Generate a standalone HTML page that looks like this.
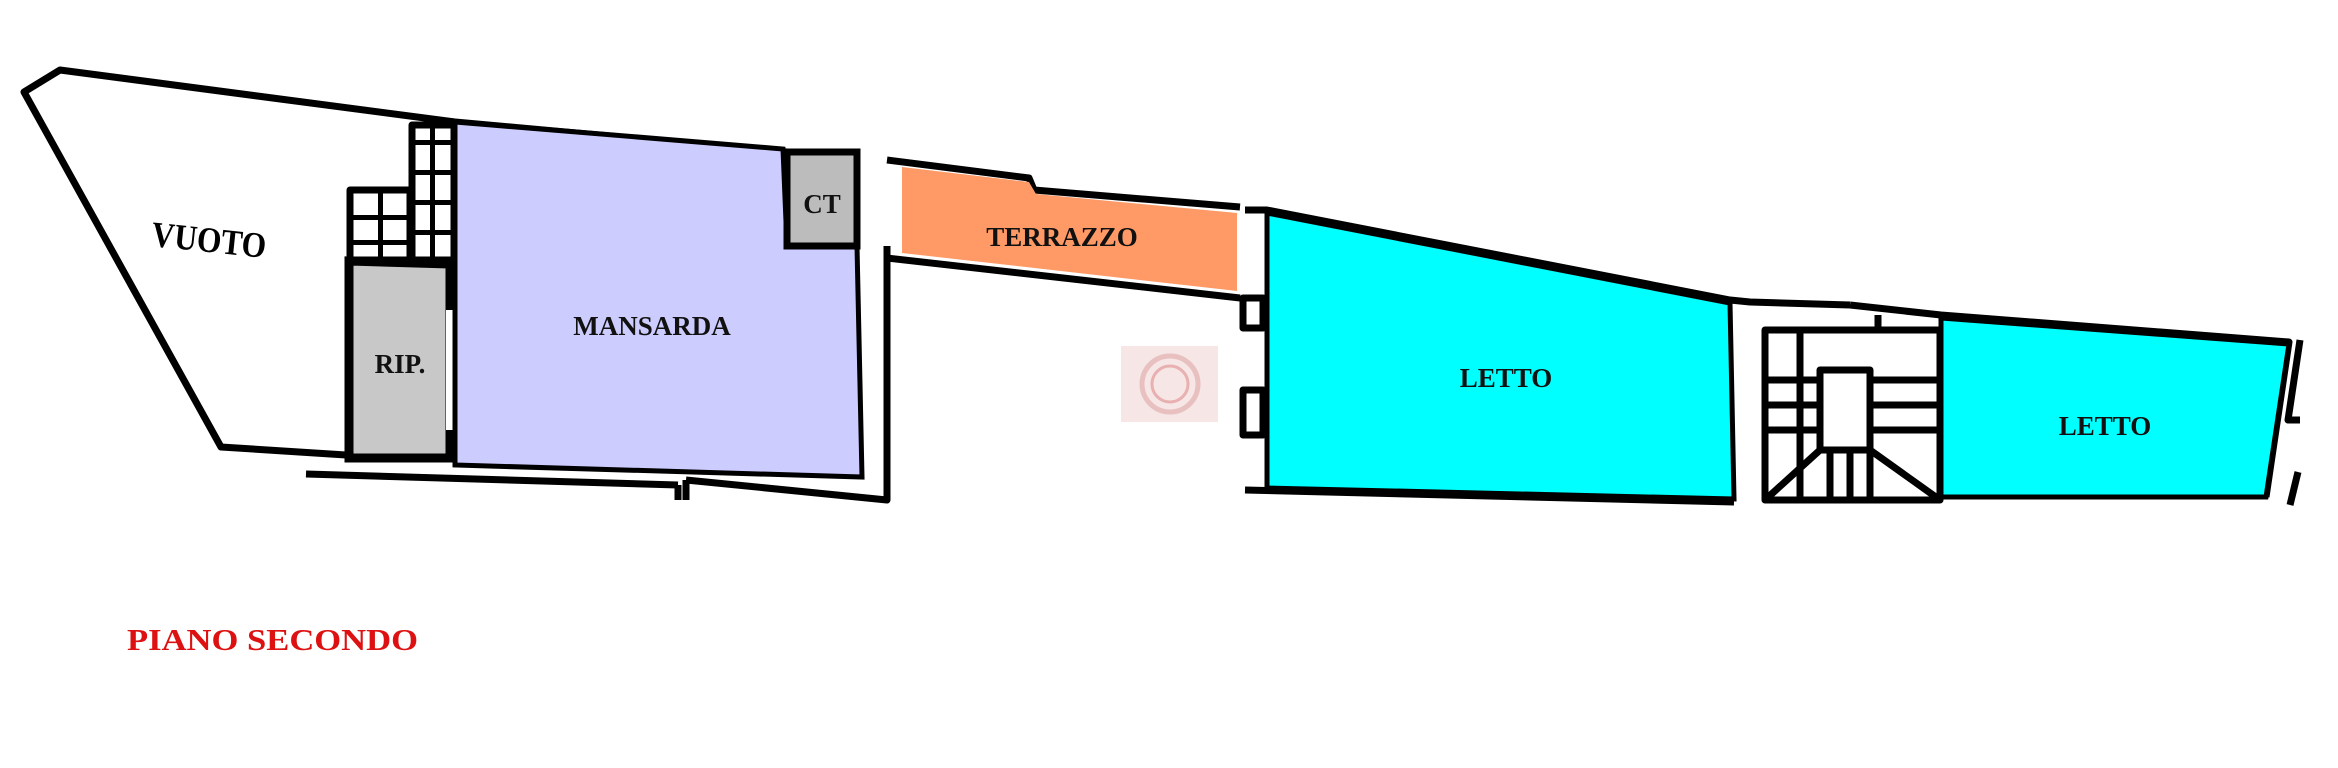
<!DOCTYPE html>
<html><head><meta charset="utf-8"><style>
html,body{margin:0;padding:0;background:#fff;}
svg{display:block;}
text{font-family:"Liberation Serif",serif;}
</style></head><body>
<svg width="2338" height="768" viewBox="0 0 2338 768" xmlns="http://www.w3.org/2000/svg">
<rect width="2338" height="768" fill="#fff"/>
<g stroke="#000" stroke-width="7" fill="none" stroke-linejoin="round">
<polyline points="349,455 346,455 221,447 24,92 60,70 455,122"/>
<polyline points="455,122 787,152 857,156"/>
<polyline points="306,474 678,485"/>
<polyline points="686,480 887,500 887,246"/>
<line x1="678" y1="485" x2="678" y2="500"/>
<line x1="686" y1="480" x2="686" y2="500"/>
<polyline points="887,160 1029,178 1034,190 1240,207"/>
<polyline points="887,258 1240,298"/>
<polyline points="1245,210 1267,210 1730,300 1750,302 1850,305"/>
<polyline points="1245,490 1734,502"/>
<rect x="1243" y="298" width="20" height="30"/>
<rect x="1243" y="390" width="20" height="45"/>
<polyline points="1850,305 1941,315 2289,342 2266,497"/>
<rect x="1765" y="330" width="175" height="170"/>
<rect x="1820" y="370" width="50" height="80"/>
<line x1="1765" y1="380" x2="1820" y2="380"/><line x1="1765" y1="405" x2="1820" y2="405"/><line x1="1765" y1="430" x2="1820" y2="430"/>
<line x1="1870" y1="380" x2="1940" y2="380"/><line x1="1870" y1="405" x2="1940" y2="405"/><line x1="1870" y1="430" x2="1940" y2="430"/>
<line x1="1765" y1="500" x2="1820" y2="450"/><line x1="1940" y1="500" x2="1870" y2="450"/>
<line x1="1830" y1="450" x2="1830" y2="500"/><line x1="1850" y1="450" x2="1850" y2="500"/><line x1="1870" y1="450" x2="1870" y2="500"/>
<line x1="1800" y1="330" x2="1800" y2="500"/>
<line x1="1878" y1="315" x2="1878" y2="330"/>
<polyline points="2300,340 2288,420 2300,420"/>
<polyline points="2298,472 2290,505"/>
<rect x="412" y="125" width="42" height="135"/>
<rect x="350" y="190" width="60" height="70"/>
</g>
<g fill="#000">
<rect x="415" y="140" width="36" height="5"/><rect x="415" y="170" width="36" height="5"/><rect x="415" y="200" width="36" height="5"/><rect x="415" y="230" width="36" height="5"/>
<rect x="352" y="215" width="56" height="5"/><rect x="352" y="240" width="56" height="5"/>
<rect x="430" y="125" width="5" height="135"/><rect x="378" y="190" width="5" height="70"/>
</g>
<polygon points="349,261 450,264 450,458 349,458" fill="#c8c8c8" stroke="#000" stroke-width="9"/>
<rect x="446" y="310" width="9" height="120" fill="#fff"/>
<polygon points="455,122 783,149 787,246 857,246 862,477 455,465" fill="#ccccff" stroke="#000" stroke-width="5"/>
<rect x="787" y="152" width="70" height="94" fill="#bcbcbc" stroke="#000" stroke-width="7"/>
<rect x="862" y="170" width="20" height="40" fill="#fff"/>
<polygon points="902,167 1029,182 1036,194 1237,213 1237,291 902,253" fill="#ff9966"/>
<polygon points="1267,213 1730,303 1734,499 1267,488" fill="#00ffff" stroke="#000" stroke-width="5"/>
<polygon points="1941,318 2289,344 2266,497 1941,497" fill="#00ffff" stroke="#000" stroke-width="5"/>
<rect x="1121" y="346" width="97" height="76" fill="#f6e6e6"/>
<circle cx="1170" cy="384" r="28" fill="none" stroke="#e8c0c0" stroke-width="5"/>
<circle cx="1170" cy="384" r="18" fill="none" stroke="#e8b0b0" stroke-width="3"/>
<text x="209" y="252" font-family="Liberation Sans,sans-serif" font-weight="bold" font-size="36" transform="rotate(6 209 240)" text-anchor="middle" textLength="115" lengthAdjust="spacingAndGlyphs">VUOTO</text>
<text x="652" y="335" font-size="27" font-weight="bold" text-anchor="middle" fill="#111">MANSARDA</text>
<text x="400" y="373" font-size="27" font-weight="bold" text-anchor="middle" fill="#111">RIP.</text>
<text x="822" y="213" font-size="27" font-weight="bold" text-anchor="middle" fill="#111">CT</text>
<text x="1062" y="246" font-size="27" font-weight="bold" text-anchor="middle" fill="#111">TERRAZZO</text>
<text x="1506" y="387" font-size="27" font-weight="bold" text-anchor="middle" fill="#111">LETTO</text>
<text x="2105" y="435" font-size="27" font-weight="bold" text-anchor="middle" fill="#111">LETTO</text>
<text x="127" y="650" font-size="31" font-weight="bold" fill="#dd1111" textLength="291" lengthAdjust="spacingAndGlyphs">PIANO SECONDO</text>
</svg>
</body></html>
